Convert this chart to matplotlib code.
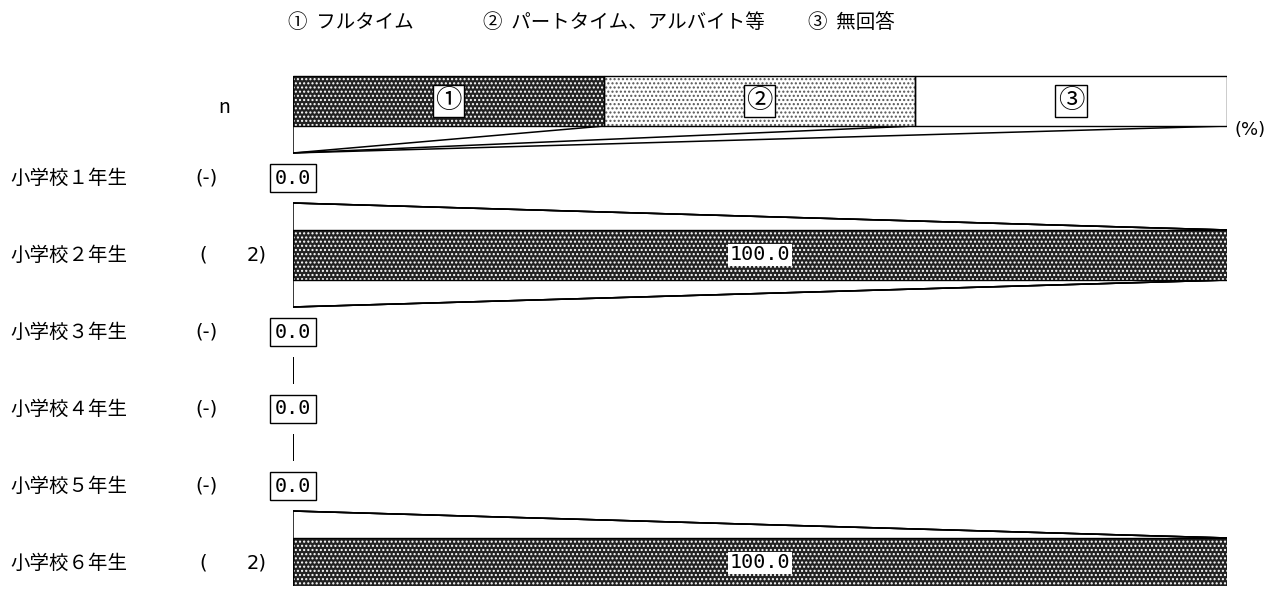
import matplotlib.pyplot as plt
from matplotlib.transforms import blended_transform_factory
import numpy as np

plt.rcParams['font.family'] = ['Noto Sans CJK JP', 'DejaVu Sans']
plt.rcParams['hatch.linewidth'] = 1.0

# data
categories = ['小学校１年生', '小学校２年生', '小学校３年生',
              '小学校４年生', '小学校５年生', '小学校６年生']
n_counts = [None, 2, None, None, None, 2]
fulltime = [0.0, 100.0, 0.0, 0.0, 0.0, 100.0]
parttime = [0.0, 0.0, 0.0, 0.0, 0.0, 0.0]
no_answer = [0.0, 0.0, 0.0, 0.0, 0.0, 0.0]
legend_labels = ['①  フルタイム', '②  パートタイム、アルバイト等', '③  無回答']
key_marks = ['①', '②', '③']
key_share = [33.3, 33.3, 33.4]

H = 0.65
styles = [dict(facecolor='#222222', edgecolor='white', hatch='....'),
          dict(facecolor='white', edgecolor='#555555', hatch='....'),
          dict(facecolor='white', edgecolor='white', hatch=None)]

W, HT = 1277, 589
fig = plt.figure(figsize=(W / 100, HT / 100), dpi=100)
# axes placed so that 0..100 % spans x=293..1227 px, rows 77 px apart
top_px, bot_px = 62.5, 586.1
ax = fig.add_axes([293 / W, 1 - bot_px / HT, 934 / W, (bot_px - top_px) / HT])
ax.set_xlim(0, 100)
ax.set_ylim(5.3, -1.5)
ax.axis('off')

mono = 'DejaVu Sans Mono'


def draw_row(y, values, labels=None):
    left = 0
    for i, v in enumerate(values):
        if v > 0:
            ax.barh(y, v, left=left, height=H, lw=0, zorder=2, **styles[i])
            ax.barh(y, v, left=left, height=H, facecolor='none',
                    edgecolor='black', lw=1.0, zorder=3)
            if labels is not None:
                ax.text(left + v / 2, y, labels[i], ha='center', va='center',
                        fontsize=19, zorder=5,
                        bbox=dict(boxstyle='square,pad=0.1', fc='white', ec='black', lw=1))
            else:
                ax.text(left + v / 2, y, f'{v:.1f}', ha='center', va='center',
                        fontsize=14.5, family=mono, zorder=5,
                        bbox=dict(boxstyle='square,pad=0.08', fc='white', ec='none'))
        left += v


# key bar
draw_row(-1, key_share, key_marks)

rows = [[f, p, q] for f, p, q in zip(fulltime, parttime, no_answer)]
ys = list(range(len(categories)))
for y, vals, n in zip(ys, rows, n_counts):
    draw_row(y, vals)
    if n is None:
        ax.text(0, y, '0.0', ha='center', va='center', fontsize=14.5,
                family=mono, zorder=5,
                bbox=dict(boxstyle='square,pad=0.22', fc='white', ec='black', lw=1))

# connecting lines between consecutive bars
all_rows = [key_share] + rows
all_ys = [-1] + ys
for k in range(len(all_rows) - 1):
    ca = np.concatenate([[0], np.cumsum(all_rows[k])])
    cb = np.concatenate([[0], np.cumsum(all_rows[k + 1])])
    for j in range(len(ca)):
        ax.plot([ca[j], cb[j]], [all_ys[k] + H / 2, all_ys[k + 1] - H / 2],
                color='black', lw=1.1, zorder=1, solid_capstyle='butt')

# left labels
tr = blended_transform_factory(fig.transFigure, ax.transData)
for y, name, n in zip(ys, categories, n_counts):
    ax.text(10 / W, y, name, transform=tr, ha='left', va='center', fontsize=14)
    if n is None:
        ax.text(195 / W, y, '(-)', transform=tr, ha='left', va='center',
                fontsize=14, family='DejaVu Sans')
    else:
        ax.text(199 / W, y, '(', transform=tr, ha='left', va='center',
                fontsize=14, family='DejaVu Sans')
        ax.text(267 / W, y, f'{n})', transform=tr, ha='right', va='center',
                fontsize=14, family='DejaVu Sans')

ax.text(224 / W, -0.92, 'n', transform=tr, ha='center', va='center', fontsize=14)
ax.text(102.5, -0.62, '(%)', ha='center', va='center', fontsize=13,
        family='DejaVu Sans', clip_on=False)

# legend at top
for x, lab in zip([288, 483, 808], legend_labels):
    fig.text(x / W, 1 - 22 / HT, lab, ha='left', va='center', fontsize=14)

fig.savefig('out.png', dpi=100)
